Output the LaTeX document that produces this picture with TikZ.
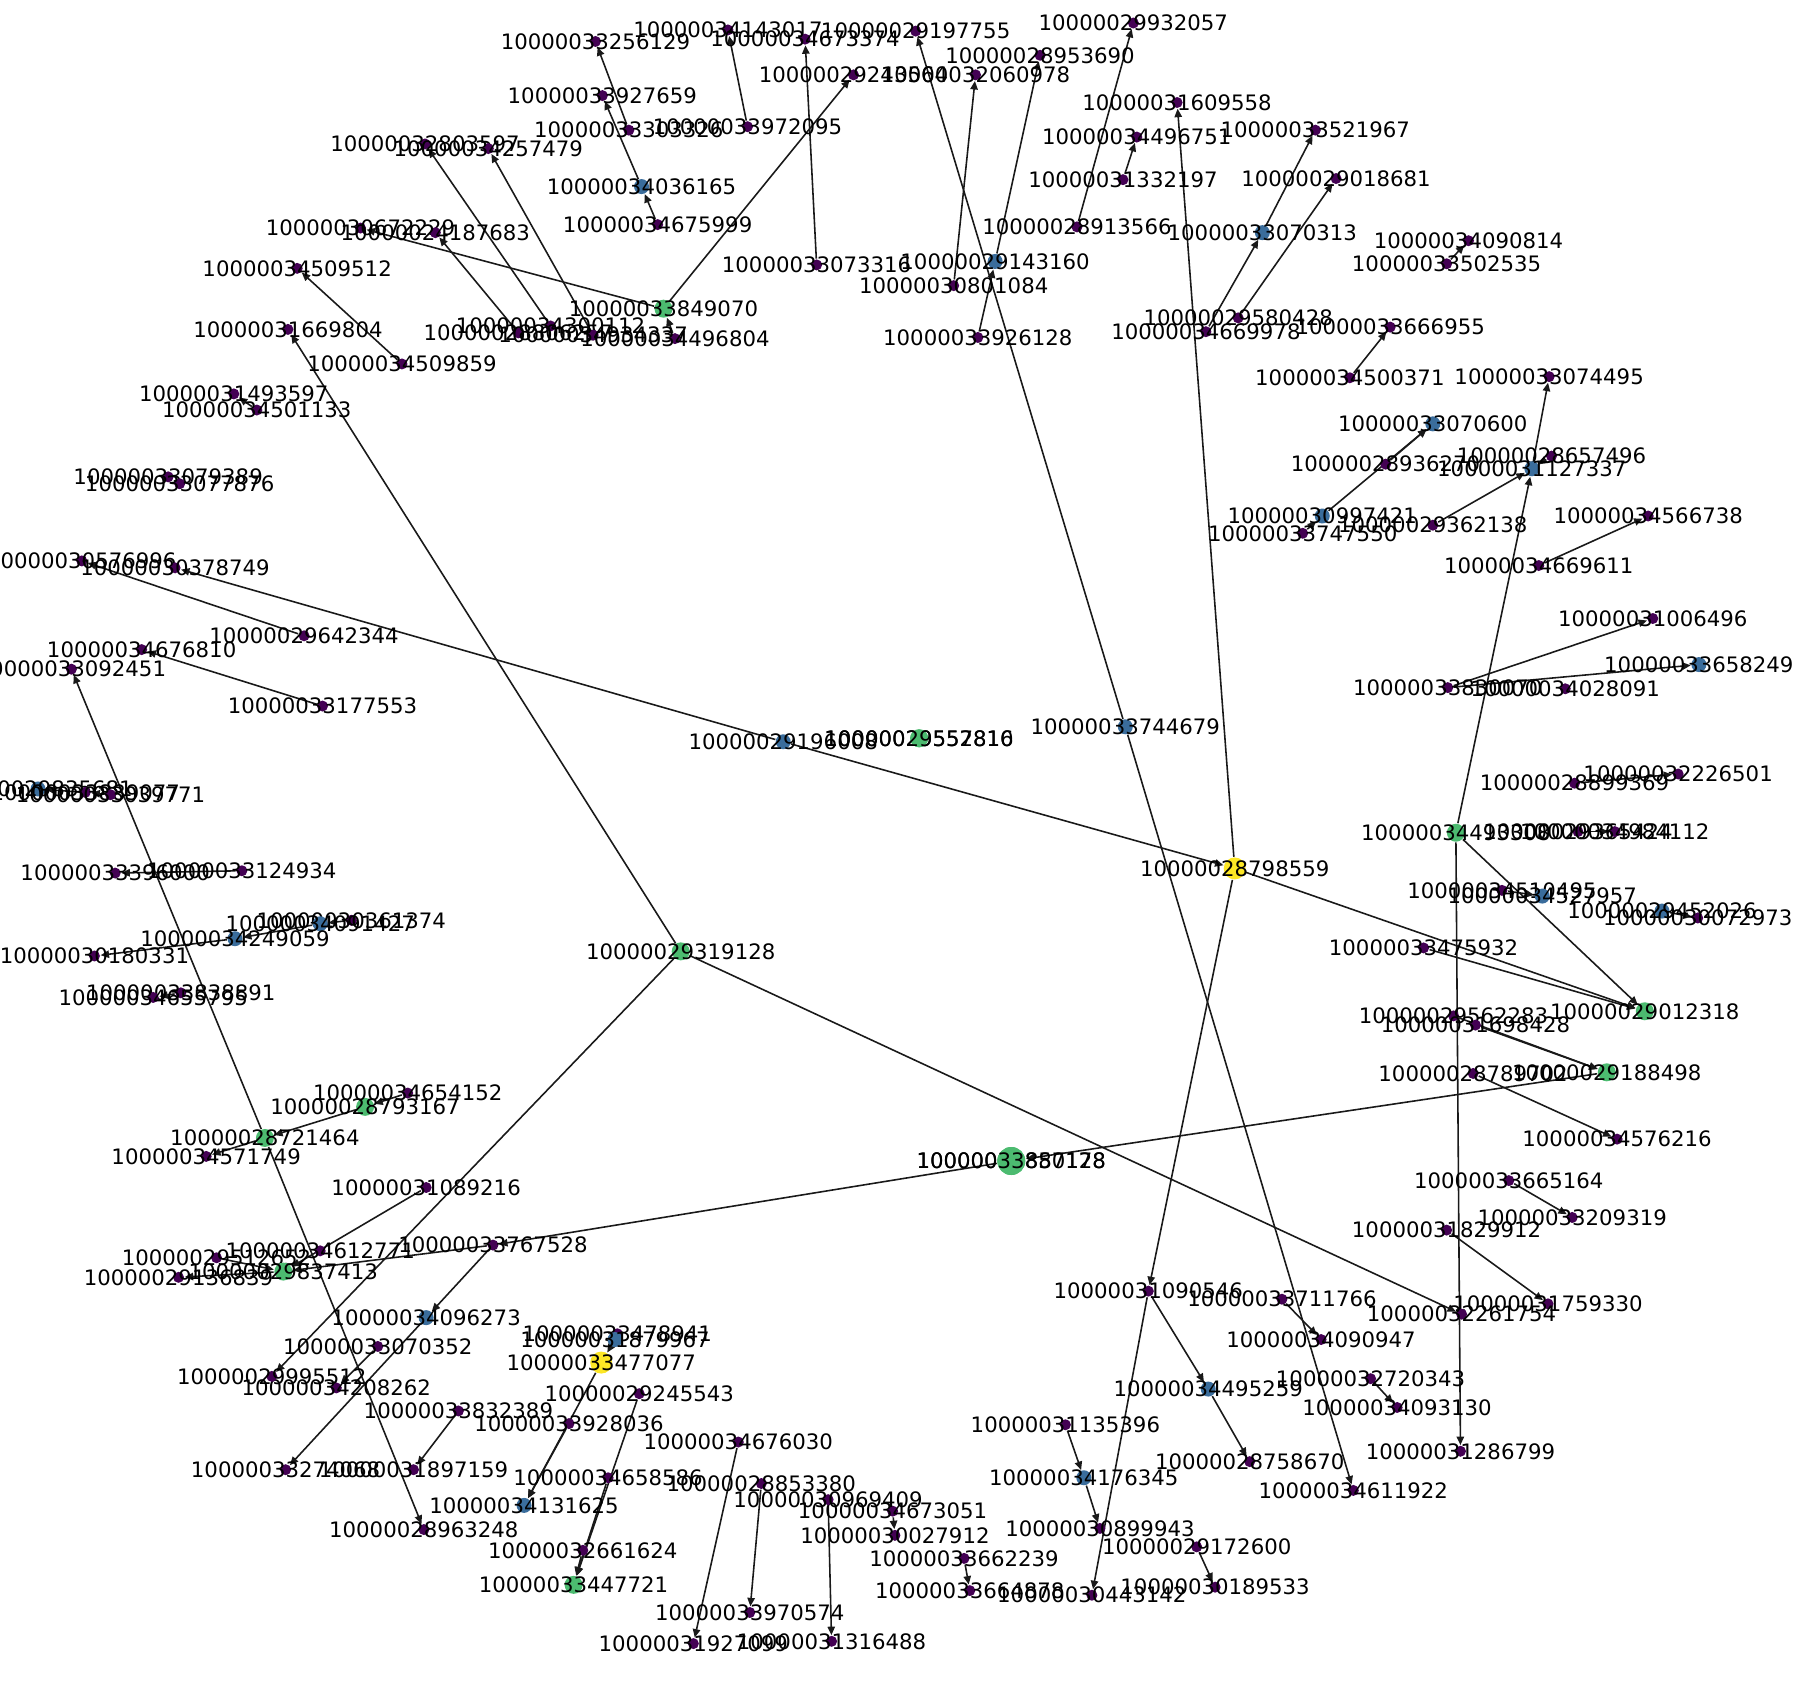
\documentclass[tikz,border=0pt]{standalone}
\usepackage{fontspec}
\setmainfont{DejaVu Sans}
\usetikzlibrary{arrows.meta}
\usepackage{xcolor}
\definecolor{vpurple}{HTML}{440154}
\definecolor{vblue}{HTML}{3A6D9C}
\definecolor{vgreen}{HTML}{4CBB70}
\definecolor{vyellow}{HTML}{FDE725}
\pgfdeclarelayer{bg}
\pgfsetlayers{bg,main}
\begin{document}
\begin{tikzpicture}[x=0.011518cm,y=-0.011518cm,>={Triangle[length=2.4pt,width=2.1pt]},
  pn/.style={circle,fill=vpurple,inner sep=0,minimum size=0.11cm},
  bn/.style={circle,fill=vblue,inner sep=0,minimum size=0.15cm},
  gn/.style={circle,fill=vgreen,inner sep=0,minimum size=0.18cm},
  yn/.style={circle,fill=vyellow,inner sep=0,minimum size=0.22cm},
  gbig/.style={gn,minimum size=0.28cm},
  every label/.style={font=\fontsize{6.05}{7}\selectfont,inner sep=0,text=black},
  ed/.style={->,line width=0.45pt,black!90}]
\useasboundingbox (0,0) rectangle (1568,1466);
\node[pn,label=center:10000033256129] (n33256129) at (517,36) {};
\node[pn,label=center:10000034143017] (n34143017) at (632,26) {};
\node[pn,label=center:10000029197755] (n29197755) at (795,27) {};
\node[pn,label=center:10000029932057] (n29932057) at (984,20) {};
\node[pn,label=center:10000034673374] (n34673374) at (699,34) {};
\node[pn,label=center:10000028953690] (n28953690) at (903,48) {};
\node[pn,label=center:10000029243564] (n29243564) at (741,65) {};
\node[pn,label=center:10000032060978] (n32060978) at (847,65) {};
\node[pn,label=center:10000033927659] (n33927659) at (523,83) {};
\node[pn,label=center:10000031609558] (n31609558) at (1022,89) {};
\node[pn,label=center:10000033303326] (n33303326) at (546,113) {};
\node[pn,label=center:10000033972095] (n33972095) at (649,110) {};
\node[pn,label=center:10000034496751] (n34496751) at (987,119) {};
\node[pn,label=center:10000033521967] (n33521967) at (1142,113) {};
\node[pn,label=center:10000032803597] (n32803597) at (369,125) {};
\node[pn,label=center:10000034257479] (n34257479) at (424,129) {};
\node[bn,label=center:10000034036165] (n34036165) at (557,162) {};
\node[pn,label=center:10000031332197] (n31332197) at (975,156) {};
\node[pn,label=center:10000029018681] (n29018681) at (1160,155) {};
\node[pn,label=center:10000034675999] (n34675999) at (571,195) {};
\node[pn,label=center:10000028913566] (n28913566) at (935,197) {};
\node[bn,label=center:10000033070313] (n33070313) at (1096,202) {};
\node[pn,label=center:10000030672229] (n30672229) at (313,198) {};
\node[pn,label=center:10000024187683] (n24187683) at (378,202) {};
\node[pn,label=center:10000034090814] (n34090814) at (1275,209) {};
\node[pn,label=center:10000033502535] (n33502535) at (1256,229) {};
\node[pn,label=center:10000034509512] (n34509512) at (258,233) {};
\node[pn,label=center:10000033073316] (n33073316) at (709,230) {};
\node[bn,label=center:10000029143160] (n29143160) at (864,227) {};
\node[pn,label=center:10000030801084] (n30801084) at (828,248) {};
\node[gn,label=center:10000033849070] (n33849070) at (576,268) {};
\node[pn,label=center:10000029580428] (n29580428) at (1075,276) {};
\node[pn,label=center:10000034669978] (n34669978) at (1047,288) {};
\node[pn,label=center:10000033666955] (n33666955) at (1207,284) {};
\node[pn,label=center:10000031669804] (n31669804) at (250,286) {};
\node[pn,label=center:10000034300112] (n34300112) at (478,283) {};
\node[pn,label=center:10000028806257] (n28806257) at (450,289) {};
\node[pn,label=center:10000034934337] (n34934337) at (515,291) {};
\node[pn,label=center:10000034496804] (n34496804) at (586,294) {};
\node[pn,label=center:10000033926128] (n33926128) at (849,293) {};
\node[pn,label=center:10000034509859] (n34509859) at (349,316) {};
\node[pn,label=center:10000034500371] (n34500371) at (1172,328) {};
\node[pn,label=center:10000033074495] (n33074495) at (1345,327) {};
\node[pn,label=center:10000031493597] (n31493597) at (203,342) {};
\node[pn,label=center:10000034501133] (n34501133) at (223,356) {};
\node[bn,label=center:10000033070600] (n33070600) at (1244,368) {};
\node[pn,label=center:10000028936270] (n28936270) at (1203,403) {};
\node[pn,label=center:10000028657496] (n28657496) at (1347,396) {};
\node[bn,label=center:10000031127337] (n31127337) at (1330,407) {};
\node[bn,label=center:10000030997421] (n30997421) at (1148,448) {};
\node[pn,label=center:10000033747550] (n33747550) at (1131,463) {};
\node[pn,label=center:10000029362138] (n29362138) at (1244,456) {};
\node[pn,label=center:10000034566738] (n34566738) at (1431,448) {};
\node[pn,label=center:10000034669611] (n34669611) at (1336,491) {};
\node[pn,label=center:10000033079389] (n33079389) at (146,414) {};
\node[pn,label=center:10000033077876] (n33077876) at (156,420) {};
\node[pn,label=center:10000030576996] (n30576996) at (71,487) {};
\node[pn,label=center:10000030378749] (n30378749) at (152,493) {};
\node[pn,label=center:10000029642344] (n29642344) at (264,552) {};
\node[pn,label=center:10000034676810] (n34676810) at (123,564) {};
\node[pn,label=center:10000033092451] (n33092451) at (62,581) {};
\node[pn,label=center:10000033177553] (n33177553) at (280,613) {};
\node[bn,label=center:10000029196008] (n29196008) at (680,644) {};
\node[gn,label=center:10000029557810] (n29557810) at (798,641) {};
\node[gn,label=center:10000029552816] (n29552816) at (798,641) {};
\node[bn,label=center:10000033744679] (n33744679) at (977,631) {};
\node[pn,label=center:10000031006496] (n31006496) at (1435,537) {};
\node[bn,label=center:10000033658249] (n33658249) at (1475,577) {};
\node[pn,label=center:10000033830070] (n33830070) at (1257,597) {};
\node[pn,label=center:10000034028091] (n34028091) at (1359,598) {};
\node[pn,label=center:10000032226501] (n32226501) at (1457,672) {};
\node[pn,label=center:10000028899369] (n28899369) at (1367,680) {};
\node[gn,label=center:10000034493308] (n34493308) at (1264,723) {};
\node[pn,label=center:10000029365424] (n29365424) at (1370,722) {};
\node[pn,label=center:10000034984112] (n34984112) at (1402,722) {};
\node[yn,label=center:10000028798559] (n28798559) at (1072,754) {};
\node[pn,label=center:10000034510495] (n34510495) at (1304,773) {};
\node[bn,label=center:10000034527957] (n34527957) at (1339,778) {};
\node[bn,label=center:10000029452026] (n29452026) at (1443,791) {};
\node[pn,label=center:10000030072973] (n30072973) at (1474,797) {};
\node[gn,label=center:10000029319128] (n29319128) at (591,826) {};
\node[pn,label=center:10000033475932] (n33475932) at (1236,823) {};
\node[gn,label=center:10000029012318] (n29012318) at (1428,878) {};
\node[pn,label=center:10000029562283] (n29562283) at (1262,882) {};
\node[pn,label=center:10000031698428] (n31698428) at (1281,890) {};
\node[pn,label=center:10000028789702] (n28789702) at (1279,932) {};
\node[gn,label=center:10000029188498] (n29188498) at (1395,931) {};
\node[pn,label=center:10000034576216] (n34576216) at (1404,989) {};
\node[pn,label=center:10000033665164] (n33665164) at (1310,1025) {};
\node[pn,label=center:10000033209319] (n33209319) at (1365,1057) {};
\node[pn,label=center:10000031829912] (n31829912) at (1256,1068) {};
\node[pn,label=center:10000031759330] (n31759330) at (1344,1132) {};
\node[pn,label=center:10000032261754] (n32261754) at (1269,1141) {};
\node[pn,label=center:10000034090947] (n34090947) at (1147,1163) {};
\node[pn,label=center:10000032720343] (n32720343) at (1190,1197) {};
\node[pn,label=center:10000034093130] (n34093130) at (1213,1222) {};
\node[pn,label=center:10000031286799] (n31286799) at (1268,1260) {};
\node[pn,label=center:10000034611922] (n34611922) at (1175,1294) {};
\node[pn,label=center:10000031090546] (n31090546) at (997,1121) {};
\node[pn,label=center:10000033711766] (n33711766) at (1113,1128) {};
\node[bn,label=center:10000034495259] (n34495259) at (1049,1206) {};
\node[pn,label=center:10000031135396] (n31135396) at (925,1237) {};
\node[pn,label=center:10000028758670] (n28758670) at (1085,1269) {};
\node[bn,label=center:10000034176345] (n34176345) at (941,1283) {};
\node[pn,label=center:10000030899943] (n30899943) at (955,1327) {};
\node[pn,label=center:10000029172600] (n29172600) at (1039,1343) {};
\node[pn,label=center:10000030189533] (n30189533) at (1055,1378) {};
\node[pn,label=center:10000030443142] (n30443142) at (948,1385) {};
\node[pn,label=center:10000033664878] (n33664878) at (842,1381) {};
\node[pn,label=center:10000033662239] (n33662239) at (837,1353) {};
\node[pn,label=center:10000030027912] (n30027912) at (777,1333) {};
\node[pn,label=center:10000034673051] (n34673051) at (775,1312) {};
\node[pn,label=center:10000030969409] (n30969409) at (719,1302) {};
\node[pn,label=center:10000028853380] (n28853380) at (661,1288) {};
\node[pn,label=center:10000034676030] (n34676030) at (641,1252) {};
\node[pn,label=center:10000033970574] (n33970574) at (651,1400) {};
\node[pn,label=center:10000031927099] (n31927099) at (602,1427) {};
\node[pn,label=center:10000031316488] (n31316488) at (722,1425) {};
\node[gn,label=center:10000033447721] (n33447721) at (498,1376) {};
\node[pn,label=center:10000032661624] (n32661624) at (506,1346) {};
\node[bn,label=center:10000034131625] (n34131625) at (455,1307) {};
\node[pn,label=center:10000034658586] (n34658586) at (528,1283) {};
\node[pn,label=center:10000033928036] (n33928036) at (494,1236) {};
\node[pn,label=center:10000029245543] (n29245543) at (555,1210) {};
\node[yn,label=center:10000033477077] (n33477077) at (522,1183) {};
\node[pn,label=center:10000033478941] (n33478941) at (536,1158) {};
\node[bn,label=center:10000031879967] (n31879967) at (534,1163) {};
\node[pn,label=center:10000028963248] (n28963248) at (368,1328) {};
\node[pn,label=center:10000031897159] (n31897159) at (359,1276) {};
\node[pn,label=center:10000033274068] (n33274068) at (248,1276) {};
\node[pn,label=center:10000033832389] (n33832389) at (398,1225) {};
\node[pn,label=center:10000034208262] (n34208262) at (292,1205) {};
\node[pn,label=center:10000029995512] (n29995512) at (236,1195) {};
\node[pn,label=center:10000033070352] (n33070352) at (328,1169) {};
\node[bn,label=center:10000034096273] (n34096273) at (370,1144) {};
\node[pn,label=center:10000033767528] (n33767528) at (428,1081) {};
\node[pn,label=center:10000034612771] (n34612771) at (278,1086) {};
\node[pn,label=center:10000029512652] (n29512652) at (188,1092) {};
\node[gn,label=center:10000029837413] (n29837413) at (246,1104) {};
\node[pn,label=center:10000029136839] (n29136839) at (155,1109) {};
\node[pn,label=center:10000031089216] (n31089216) at (370,1031) {};
\node[pn,label=center:10000034571749] (n34571749) at (179,1004) {};
\node[gn,label=center:10000028721464] (n28721464) at (230,988) {};
\node[gn,label=center:10000028793167] (n28793167) at (317,961) {};
\node[pn,label=center:10000034654152] (n34654152) at (354,949) {};
\node[pn,label=center:10000030361374] (n30361374) at (305,799) {};
\node[bn,label=center:10000034091427] (n34091427) at (278,802) {};
\node[bn,label=center:10000034249059] (n34249059) at (204,815) {};
\node[pn,label=center:10000030180331] (n30180331) at (82,830) {};
\node[pn,label=center:10000033396000] (n33396000) at (100,758) {};
\node[pn,label=center:10000033124934] (n33124934) at (210,756) {};
\node[pn,label=center:10000033838891] (n33838891) at (157,862) {};
\node[pn,label=center:10000034655795] (n34655795) at (133,866) {};
\node[bn,label=center:10000029835681] (n29835681) at (33,685) {};
\node[pn,label=center:10000033889077] (n33889077) at (74,688) {};
\node[pn,label=center:10000033039771] (n33039771) at (96,690) {};
\node[gbig,label=center:10000033850128] (n33850128) at (878,1008) {};
\node[gbig,label=center:10000033887178] (n33887178) at (878,1008) {};
\begin{pgfonlayer}{bg}
\draw[ed] (n34675999) -- (n34036165);
\draw[ed] (n34036165) -- (n33927659);
\draw[ed] (n33303326) -- (n33256129);
\draw[ed] (n33972095) -- (n34143017);
\draw[ed] (n33073316) -- (n34673374);
\draw[ed] (n33849070) -- (n29243564);
\draw[ed] (n34496804) -- (n33849070);
\draw[ed] (n33849070) -- (n30672229);
\draw[ed] (n28806257) -- (n24187683);
\draw[ed] (n34300112) -- (n32803597);
\draw[ed] (n34934337) -- (n34257479);
\draw[ed] (n34509859) -- (n34509512);
\draw[ed] (n29319128) -- (n31669804);
\draw[ed] (n34501133) -- (n31493597);
\draw[ed] (n33077876) -- (n33079389);
\draw[ed] (n29642344) -- (n30576996);
\draw[ed] (n29196008) -- (n30378749);
\draw[ed] (n29196008) -- (n28798559);
\draw[ed] (n33177553) -- (n34676810);
\draw[ed] (n28721464) -- (n33092451);
\draw[ed] (n28721464) -- (n28963248);
\draw[ed] (n28721464) -- (n34571749);
\draw[ed] (n34654152) -- (n28793167);
\draw[ed] (n28793167) -- (n28721464);
\draw[ed] (n31089216) -- (n29837413);
\draw[ed] (n33767528) -- (n29837413);
\draw[ed] (n33850128) -- (n33767528);
\draw[ed] (n29188498) -- (n33850128);
\draw[ed] (n29319128) -- (n29995512);
\draw[ed] (n33767528) -- (n34096273);
\draw[ed] (n34096273) -- (n33274068);
\draw[ed] (n29319128) -- (n32261754);
\draw[ed] (n33070352) -- (n34208262);
\draw[ed] (n33832389) -- (n31897159);
\draw[ed] (n31879967) -- (n33477077);
\draw[ed] (n33477077) -- (n34131625);
\draw[ed] (n33928036) -- (n34131625);
\draw[ed] (n29245543) -- (n33447721);
\draw[ed] (n34658586) -- (n33447721);
\draw[ed] (n32661624) -- (n33447721);
\draw[ed] (n34676030) -- (n31927099);
\draw[ed] (n28853380) -- (n33970574);
\draw[ed] (n30969409) -- (n31316488);
\draw[ed] (n34673051) -- (n30027912);
\draw[ed] (n33662239) -- (n33664878);
\draw[ed] (n28798559) -- (n31090546);
\draw[ed] (n31090546) -- (n30443142);
\draw[ed] (n31090546) -- (n34495259);
\draw[ed] (n34495259) -- (n28758670);
\draw[ed] (n31135396) -- (n34176345);
\draw[ed] (n34176345) -- (n30899943);
\draw[ed] (n29172600) -- (n30189533);
\draw[ed] (n33711766) -- (n34090947);
\draw[ed] (n33744679) -- (n29197755);
\draw[ed] (n33744679) -- (n34611922);
\draw[ed] (n28798559) -- (n31609558);
\draw[ed] (n28798559) -- (n29012318);
\draw[ed] (n33475932) -- (n29012318);
\draw[ed] (n34493308) -- (n29012318);
\draw[ed] (n34493308) -- (n31127337);
\draw[ed] (n31127337) -- (n33074495);
\draw[ed] (n34493308) -- (n31286799);
\draw[ed] (n31829912) -- (n31759330);
\draw[ed] (n33665164) -- (n33209319);
\draw[ed] (n32720343) -- (n34093130);
\draw[ed] (n28789702) -- (n34576216);
\draw[ed] (n29562283) -- (n29188498);
\draw[ed] (n31698428) -- (n29188498);
\draw[ed] (n34669978) -- (n33070313);
\draw[ed] (n33070313) -- (n33521967);
\draw[ed] (n29580428) -- (n29018681);
\draw[ed] (n31332197) -- (n34496751);
\draw[ed] (n28913566) -- (n29932057);
\draw[ed] (n33926128) -- (n29143160);
\draw[ed] (n29143160) -- (n28953690);
\draw[ed] (n30801084) -- (n32060978);
\draw[ed] (n34500371) -- (n33666955);
\draw[ed] (n33502535) -- (n34090814);
\draw[ed] (n28936270) -- (n33070600);
\draw[ed] (n30997421) -- (n33070600);
\draw[ed] (n33747550) -- (n30997421);
\draw[ed] (n29362138) -- (n31127337);
\draw[ed] (n28657496) -- (n31127337);
\draw[ed] (n34669611) -- (n34566738);
\draw[ed] (n33830070) -- (n31006496);
\draw[ed] (n33830070) -- (n33658249);
\draw[ed] (n28899369) -- (n32226501);
\draw[ed] (n29365424) -- (n34984112);
\draw[ed] (n34510495) -- (n34527957);
\draw[ed] (n29452026) -- (n30072973);
\draw[ed] (n34091427) -- (n34249059);
\draw[ed] (n30361374) -- (n34091427);
\draw[ed] (n34249059) -- (n30180331);
\draw[ed] (n33124934) -- (n33396000);
\draw[ed] (n33838891) -- (n34655795);
\draw[ed] (n33889077) -- (n29835681);
\draw[ed] (n33039771) -- (n33889077);
\draw[ed] (n29512652) -- (n29837413);
\draw[ed] (n29837413) -- (n29136839);
\end{pgfonlayer}
\end{tikzpicture}
\end{document}
